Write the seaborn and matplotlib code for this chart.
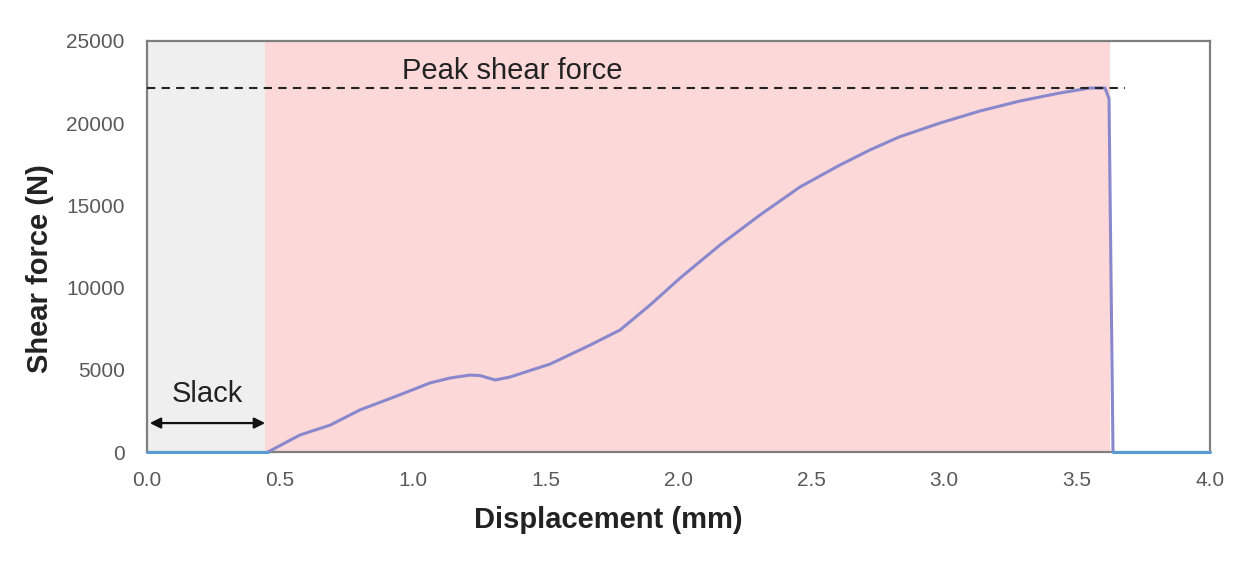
import numpy as np
import pandas as pd
import matplotlib
matplotlib.use("Agg")
import matplotlib.pyplot as plt
import seaborn as sns

# Data
disp_mm = [0.455, 0.54, 0.575, 0.69, 0.80, 0.95, 1.065, 1.14, 1.215, 1.253, 1.31, 1.366,
           1.517, 1.667, 1.78, 1.893, 2.006, 2.156, 2.307, 2.457, 2.608, 2.72, 2.83,
           2.984, 3.134, 3.285, 3.436, 3.548, 3.605, 3.62, 3.635]
force_n = [0, 730, 1030, 1640, 2550, 3470, 4200, 4500, 4680, 4650, 4380, 4560,
           5350, 6500, 7420, 8940, 10580, 12590, 14420, 16120, 17460, 18370, 19160,
           20010, 20740, 21350, 21840, 22140, 22140, 21500, 0]
slack_x = [0.0, 0.455]
slack_y = [0, 0]
tail_x = [3.635, 4.0]
tail_y = [0, 0]
peak_force = 22150
slack_end = 0.445
pink_end = 3.625
x_ticks = [0.0, 0.5, 1.0, 1.5, 2.0, 2.5, 3.0, 3.5, 4.0]
y_ticks = [0, 5000, 10000, 15000, 20000, 25000]

sns.set_style("white")
plt.rcParams['font.family'] = ['Liberation Sans', 'DejaVu Sans']

fig = plt.figure(figsize=(12.47, 5.63), dpi=100)
ax = fig.add_axes([147/1247, 1-452/563, (1210-147)/1247, (452-41)/563])

ax.axvspan(0, slack_end, color="#efefef", zorder=0, lw=0)
ax.axvspan(slack_end, pink_end, color="#fdd8d9", zorder=0, lw=0)

df = pd.DataFrame({"x": disp_mm, "y": force_n})
sns.lineplot(data=df, x="x", y="y", ax=ax, color="#8a88cc", lw=2.2, sort=False, zorder=3)
sns.lineplot(x=slack_x, y=slack_y, ax=ax, color="#5b9bd5", lw=2.2, zorder=5)
sns.lineplot(x=tail_x, y=tail_y, ax=ax, color="#5b9bd5", lw=2.2, zorder=5)
for ln in ax.lines:
    ln.set_clip_on(False)

ax.plot([0, 3.68], [peak_force, peak_force], ls=(0, (4, 3)), color="#222222", lw=1.5, zorder=4, clip_on=False)
ax.text(1.373, 22350, "Peak shear force", ha="center", va="bottom", fontsize=21, color="#222222")

ax.annotate("", xy=(0.0, 1760), xytext=(0.455, 1760),
            arrowprops=dict(arrowstyle="<|-|>", color="#111111", lw=1.6, mutation_scale=16))
ax.text(0.226, 2650, "Slack", ha="center", va="bottom", fontsize=21, color="#222222")

ax.set_xlim(0, 4.0)
ax.set_ylim(0, 25000)
ax.set_xticks(x_ticks)
ax.set_xticklabels([f"{v:.1f}" for v in x_ticks])
ax.set_yticks(y_ticks)
ax.set_yticklabels([str(v) for v in y_ticks])
ax.tick_params(axis="both", length=0, labelsize=15, colors="#595959")
ax.tick_params(axis="x", pad=14)
ax.tick_params(axis="y", pad=16)
ax.set_xlabel("Displacement (mm)", fontsize=21, fontweight="bold", color="#222222")
ax.set_ylabel("Shear force (N)", fontsize=21, fontweight="bold", color="#222222")
ax.xaxis.set_label_coords((608-147)/1063, -(520-452)/411)
ax.yaxis.set_label_coords(-(147-40)/1063, (452-269)/411)
ax.xaxis.label.set_va("center")
ax.yaxis.label.set_va("center")
for s in ax.spines.values():
    s.set_color("#7f7f7f")
    s.set_linewidth(1.6)
    s.set_visible(True)

fig.savefig("out.png", dpi=100)
